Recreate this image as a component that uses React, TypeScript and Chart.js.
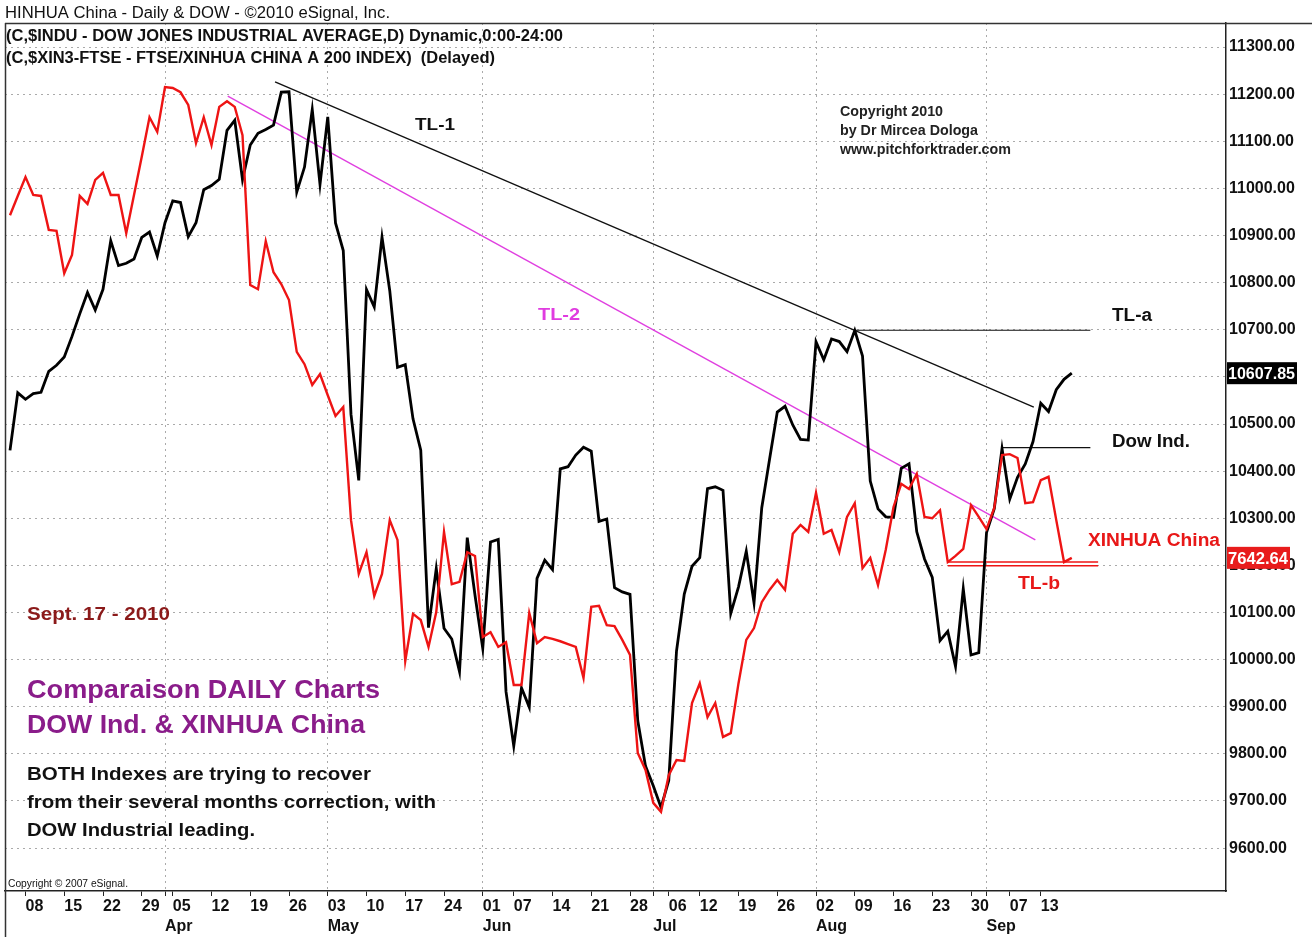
import React, { useEffect, useRef } from 'react';
import { Chart, registerables } from 'chart.js';

Chart.register(...registerables);

const FONT = '"Liberation Sans", Arial, Helvetica, sans-serif';

// ---- calendar (x categories) ----
const firstTradingDay = '2010-03-04';
const lastTradingDay = '2010-09-17';
const marketHolidays = ['2010-04-02', '2010-05-31', '2010-07-05', '2010-09-06'];
const monthNames = ['Jan', 'Feb', 'Mar', 'Apr', 'May', 'Jun', 'Jul', 'Aug', 'Sep', 'Oct', 'Nov', 'Dec'];

// ---- series: Dow Jones Industrial Average daily close ----
const dowMar = [10444.14, 10566.2, 10552.52, 10564.38, 10567.33, 10611.84, 10624.69, 10642.15, 10685.98, 10733.67, 10779.17, 10741.98, 10785.89, 10888.83, 10836.15, 10841.21, 10850.36, 10895.86, 10907.42, 10856.63];
const dowApr = [10927.07, 10973.55, 10969.99, 10897.52, 10927.07, 10997.35, 11005.97, 11019.42, 11123.11, 11144.57, 11018.66, 11092.05, 11117.06, 11124.92, 11134.29, 11204.28, 11205.03, 10991.99, 11045.27, 11167.32, 11008.61];
const dowMay = [11151.83, 10926.77, 10868.12, 10520.32, 10380.43, 10785.14, 10748.26, 10896.91, 10782.95, 10620.16, 10625.83, 10510.95, 10444.37, 10068.01, 10193.39, 10066.57, 10043.75, 9974.45, 10258.99, 10136.63];
const dowJun = [10024.02, 10249.54, 10255.28, 9931.97, 9816.49, 9939.98, 9899.25, 10172.53, 10211.07, 10190.89, 10404.77, 10409.46, 10434.17, 10450.64, 10442.41, 10293.52, 10298.44, 10152.8, 10143.81, 10138.52, 9870.3, 9774.02];
const dowJul = [9732.53, 9686.48, 9743.62, 10018.28, 10138.99, 10198.03, 10216.27, 10363.02, 10366.72, 10359.31, 10097.9, 10154.43, 10229.96, 10120.53, 10322.3, 10424.62, 10525.43, 10537.69, 10497.88, 10467.16, 10465.94];
const dowAug = [10674.38, 10636.38, 10680.43, 10674.98, 10653.56, 10698.75, 10644.25, 10378.83, 10319.95, 10303.15, 10302.01, 10405.85, 10415.54, 10271.21, 10213.62, 10174.41, 10040.45, 10060.06, 9985.81, 10150.65, 10009.73, 10014.72];
const dowSep = [10269.47, 10320.1, 10447.93, 10340.69, 10387.01, 10415.24, 10462.77, 10544.13, 10526.49, 10572.73, 10594.83, 10607.85];

// ---- series: FTSE/Xinhua China A200 as overlaid on the price scale ----
const xinMar = [10943, 10984, 11024, 10986, 10984, 10912, 10910, 10820, 10859, 10984, 10967, 11018, 11033, 10986, 10986, 10905, 10986, 11067, 11151, 11120];
const xinApr = [11215, 11213, 11204, 11177, 11096, 11151, 11092, 11173, 11185, 11173, 11113, 10795, 10786, 10888, 10822, 10797, 10763, 10653, 10627, 10583, 10606];
const xinMay = [10561, 10517, 10536, 10296, 10182, 10228, 10135, 10182, 10296, 10254, 9997, 10097, 10084, 10027, 10101, 10271, 10160, 10165, 10228, 10220];
const xinJun = [10048, 10058, 10027, 10037, 9946, 9946, 10099, 10035, 10048, 10044, 10039, 10033, 10027, 9961, 10112, 10114, 10073, 10071, 10042, 10010, 9802, 9766];
const xinJul = [9696, 9677, 9755, 9787, 9785, 9908, 9950, 9878, 9908, 9836, 9844, 9950, 10042, 10067, 10122, 10148, 10169, 10148, 10267, 10286, 10271];
const xinAug = [10354, 10267, 10275, 10228, 10303, 10332, 10194, 10216, 10158, 10233, 10324, 10373, 10362, 10394, 10303, 10300, 10317, 10207, 10220, 10235, 10328, 10303];
const xinSep = [10277, 10322, 10434, 10436, 10428, 10332, 10334, 10381, 10388, 10296, 10207, 10216];

const dowClose = [...dowMar, ...dowApr, ...dowMay, ...dowJun, ...dowJul, ...dowAug, ...dowSep];
const xinhuaLine = [...xinMar, ...xinApr, ...xinMay, ...xinJun, ...xinJul, ...xinAug, ...xinSep];

const dowLastLabel = '10607.85';
const xinhuaLastLabel = '7642.64';

// ---- price axis ----
const priceTicks = [9600, 9700, 9800, 9900, 10000, 10100, 10200, 10300, 10400, 10500, 10600, 10700, 10800, 10900, 11000, 11100, 11200, 11300];
const priceMin = 9509;
const priceMax = 11351;
const dayMin = -0.645;
const dayMax = 156.9;

// ---- drawn trend lines (day index, price) ----
const trendTL1 = [{ x: 34.2, y: 11226 }, { x: 132.1, y: 10536 }];
const trendTL2 = [{ x: 28.1, y: 11196 }, { x: 132.3, y: 10254 }];
const trendTLa = [{ x: 109, y: 10699 }, { x: 139.4, y: 10699 }];
const trendDow = [{ x: 128, y: 10450 }, { x: 139.4, y: 10450 }];
const trendTLb1 = [{ x: 121, y: 10207 }, { x: 140.4, y: 10207 }];
const trendTLb2 = [{ x: 121, y: 10199 }, { x: 140.4, y: 10199 }];

type Note = { text: string; x: number; y: number; size: number; bold: boolean; color: string; w: number };
const notes: Note[] = [
  { text: 'HINHUA China - Daily & DOW - \u00a92010 eSignal, Inc.', x: 5, y: 18, size: 16, bold: false, color: '#111', w: 385 },
  { text: '(C,$INDU - DOW JONES INDUSTRIAL AVERAGE,D) Dynamic,0:00-24:00', x: 6, y: 41, size: 16, bold: true, color: '#111', w: 557 },
  { text: '(C,$XIN3-FTSE - FTSE/XINHUA CHINA A 200 INDEX)  (Delayed)', x: 6, y: 63, size: 16, bold: true, color: '#111', w: 489 },
  { text: 'TL-1', x: 415, y: 130, size: 17, bold: true, color: '#111', w: 40 },
  { text: 'TL-2', x: 538, y: 320, size: 17, bold: true, color: '#e03ce0', w: 42 },
  { text: 'Copyright 2010', x: 840, y: 116, size: 14, bold: true, color: '#222', w: 103 },
  { text: 'by Dr Mircea Dologa', x: 840, y: 135, size: 14, bold: true, color: '#222', w: 138 },
  { text: 'www.pitchforktrader.com', x: 840, y: 154, size: 14, bold: true, color: '#222', w: 171 },
  { text: 'TL-a', x: 1112, y: 321, size: 18, bold: true, color: '#111', w: 40 },
  { text: 'Dow Ind.', x: 1112, y: 447, size: 18, bold: true, color: '#111', w: 78 },
  { text: 'XINHUA China', x: 1088, y: 546, size: 18, bold: true, color: '#e81818', w: 132 },
  { text: 'TL-b', x: 1018, y: 589, size: 18, bold: true, color: '#e81818', w: 42 },
  { text: 'Sept. 17 - 2010', x: 27, y: 620, size: 18, bold: true, color: '#8b1a1a', w: 143 },
  { text: 'Comparaison DAILY Charts', x: 27, y: 698, size: 26, bold: true, color: '#8a1c8a', w: 353 },
  { text: 'DOW Ind. & XINHUA China', x: 27, y: 733, size: 26, bold: true, color: '#8a1c8a', w: 338 },
  { text: 'BOTH Indexes are trying to recover', x: 27, y: 780, size: 19, bold: true, color: '#111', w: 344 },
  { text: 'from their several months correction, with', x: 27, y: 808, size: 19, bold: true, color: '#111', w: 409 },
  { text: 'DOW Industrial leading.', x: 27, y: 836, size: 19, bold: true, color: '#111', w: 228 },
  { text: 'Copyright \u00a9 2007 eSignal.', x: 8, y: 887, size: 10, bold: false, color: '#111', w: 120 },
];

function buildTradingDays(): Date[] {
  const out: Date[] = [];
  const d = new Date(firstTradingDay + 'T12:00:00Z');
  const end = new Date(lastTradingDay + 'T12:00:00Z');
  while (d <= end) {
    const wd = d.getUTCDay();
    const iso = d.toISOString().slice(0, 10);
    if (wd !== 0 && wd !== 6 && !marketHolidays.includes(iso)) out.push(new Date(d.getTime()));
    d.setUTCDate(d.getUTCDate() + 1);
  }
  return out;
}

function fitText(ctx: CanvasRenderingContext2D, n: Note) {
  ctx.save();
  ctx.font = `${n.bold ? 'bold ' : ''}${n.size}px ${FONT}`;
  ctx.fillStyle = n.color;
  ctx.textBaseline = 'alphabetic';
  ctx.textAlign = 'left';
  const w = ctx.measureText(n.text).width;
  ctx.translate(n.x, n.y);
  ctx.scale(n.w / w, 1);
  ctx.fillText(n.text, 0, 0);
  ctx.restore();
}

export default function App() {
  const ref = useRef<HTMLCanvasElement | null>(null);

  useEffect(() => {
    document.body.style.margin = '0';
    const days = buildTradingDays();
    const weekOf = (d: Date) => Math.floor((d.getTime() / 86400000 + 3) / 7);
    const dayIdx: number[] = [];
    const monthIdx: number[] = [];
    for (let i = 1; i < days.length; i++) {
      if (weekOf(days[i]) !== weekOf(days[i - 1])) dayIdx.push(i);
      if (days[i].getUTCMonth() !== days[i - 1].getUTCMonth()) monthIdx.push(i);
    }
    const axisIdx = Array.from(new Set([...dayIdx, ...monthIdx])).sort((a, b) => a - b);
    const dayLabel = (i: number) => String(days[i].getUTCDate()).padStart(2, '0');
    const monthLabel = (i: number) => monthNames[days[i].getUTCMonth()];

    const pts = (arr: number[]) => arr.map((v, i) => ({ x: i, y: v }));
    const tl = (color: string, width: number, data: { x: number; y: number }[]) => ({
      data, borderColor: color, borderWidth: width, pointRadius: 0, fill: false, tension: 0, order: 3,
    });

    const decor = {
      id: 'decor',
      beforeDraw(chart: any) {
        const c = chart.ctx as CanvasRenderingContext2D;
        c.save();
        c.fillStyle = '#fff';
        c.fillRect(0, 0, chart.width, chart.height);
        c.restore();
      },
      afterDraw(chart: any) {
        const c = chart.ctx as CanvasRenderingContext2D;
        const area = chart.chartArea;
        c.save();
        c.strokeStyle = '#333';
        c.lineWidth = 1.5;
        c.beginPath();
        c.moveTo(area.left, area.top + 0.5);
        c.lineTo(chart.width, area.top + 0.5);
        c.moveTo(area.left + 0.5, area.top);
        c.lineTo(area.left + 0.5, chart.height);
        c.stroke();
        c.restore();
        notes.forEach((n) => fitText(c, n));
        const ys = chart.scales.y;
        const boxes = [
          { label: dowLastLabel, v: dowClose[dowClose.length - 1], bg: '#000', w: 70 },
          { label: xinhuaLastLabel, v: xinhuaLine[xinhuaLine.length - 1], bg: '#e81c1c', w: 63 },
        ];
        boxes.forEach((b) => {
          const py = ys.getPixelForValue(b.v);
          c.save();
          c.fillStyle = b.bg;
          c.fillRect(area.right + 1, py - 11, b.w, 22);
          c.restore();
          fitText(c, { text: b.label, x: area.right + 2, y: py + 6, size: 16, bold: true, color: '#fff', w: b.w - 3 });
        });
      },
    };

    const chart = new Chart(ref.current as HTMLCanvasElement, {
      type: 'line',
      data: {
        datasets: [
          { data: pts(xinhuaLine), borderColor: '#ee1414', borderWidth: 2.4, pointRadius: 0, tension: 0, fill: false, order: 1 } as any,
          { data: pts(dowClose), borderColor: '#000', borderWidth: 2.8, pointRadius: 0, tension: 0, fill: false, order: 2 } as any,
          tl('#111', 1.4, trendTL1),
          tl('#e040e0', 1.4, trendTL2),
          tl('#111', 1.2, trendTLa),
          tl('#111', 1.2, trendDow),
          tl('#ee1414', 1.5, trendTLb1),
          tl('#ee1414', 1.5, trendTLb2),
        ],
      },
      options: {
        responsive: false,
        animation: false,
        events: [],
        layout: { padding: { top: 23, left: 5, right: 0, bottom: 0 } },
        plugins: { legend: { display: false }, tooltip: { enabled: false } },
        scales: {
          x: {
            type: 'linear',
            position: 'bottom',
            weight: 0,
            min: dayMin,
            max: dayMax,
            afterBuildTicks: (s: any) => { s.ticks = axisIdx.map((v) => ({ value: v })); },
            afterFit: (s: any) => { s.height = 22; },
            grid: { drawOnChartArea: false, drawTicks: true, tickLength: 5, color: '#222', lineWidth: 1 },
            border: { display: true, color: '#222', width: 1.5 },
            ticks: {
              autoSkip: false,
              maxRotation: 0,
              align: 'start',
              padding: 1,
              color: '#111',
              font: { family: FONT, size: 16, weight: 'bold' },
              callback: (v: any) => (dayIdx.includes(Number(v)) ? dayLabel(Number(v)) : ''),
            },
          } as any,
          xm: {
            type: 'linear',
            position: 'bottom',
            weight: 1,
            min: dayMin,
            max: dayMax,
            afterBuildTicks: (s: any) => { s.ticks = monthIdx.map((v) => ({ value: v })); },
            afterFit: (s: any) => { s.height = 24; },
            grid: { drawOnChartArea: true, drawTicks: false, color: '#aaaaaa', lineWidth: 1 },
            border: { display: false, dash: [2, 4] },
            ticks: {
              autoSkip: false,
              maxRotation: 0,
              align: 'start',
              padding: 4,
              color: '#111',
              font: { family: FONT, size: 16, weight: 'bold' },
              callback: (v: any) => monthLabel(Number(v)),
            },
          } as any,
          y: {
            type: 'linear',
            position: 'right',
            min: priceMin,
            max: priceMax,
            afterBuildTicks: (s: any) => { s.ticks = priceTicks.map((v) => ({ value: v })); },
            afterFit: (s: any) => { s.width = 86; },
            grid: { color: '#aaaaaa', drawTicks: false, lineWidth: 1 },
            border: { display: true, color: '#222', width: 1.5, dash: [2, 4] },
            ticks: {
              padding: 3,
              color: '#111',
              font: { family: FONT, size: 16, weight: 'bold' },
              callback: (v: any) => Number(v).toFixed(2),
            },
          } as any,
        },
      } as any,
      plugins: [decor],
    });
    return () => chart.destroy();
  }, []);

  return (
    <div style={{ position: 'absolute', left: 0, top: 0, width: 1312, height: 937, background: '#fff' }}>
      <canvas ref={ref} width={1312} height={937} style={{ display: 'block', width: 1312, height: 937 }} />
    </div>
  );
}
